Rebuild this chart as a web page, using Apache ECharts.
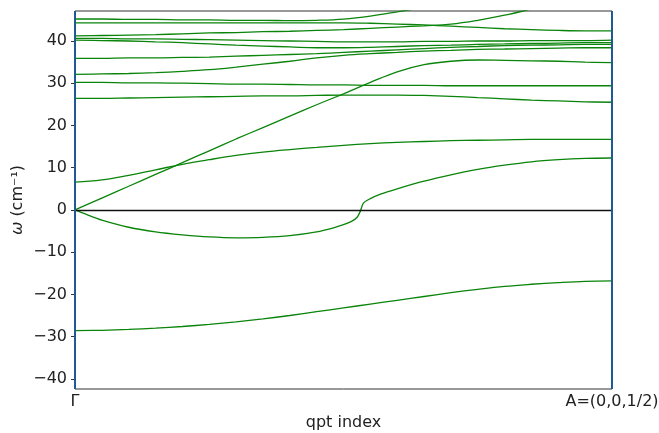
<!DOCTYPE html>
<html>
<head>
<meta charset="utf-8">
<script src="https://cdn.jsdelivr.net/npm/echarts@6/dist/echarts.min.js"></script>
<style>
  html, body { margin: 0; padding: 0; background: #fff; }
  #chart { width: 659px; height: 433px; }
</style>
</head>
<body>
<div id="chart"></div>
<script>
// qpt positions (0 = Γ, 100 = A)
const qpt = [0, 5, 10, 15, 20, 25, 30, 35, 40, 45, 50, 55, 60, 65, 70, 75, 80, 85, 90, 95, 100]

// bands, cm^-1
const band1 = [-28.6, -28.5, -28.3, -28.0, -27.6, -27.1, -26.5, -25.8, -25.0, -24.1, -23.2, -22.3, -21.4, -20.5, -19.6, -18.8, -18.1, -17.6, -17.2, -16.9, -16.8]
const band3 = [0, 2.8, 5.6, 8.4, 11.2, 14.0, 16.8, 19.5, 22.2, 24.9, 27.5, 30.2, 32.7, 34.4, 35.2, 35.5, 35.4, 35.3, 35.2, 35.0, 34.9]
const band4 = [6.6, 7.1, 8.2, 9.5, 10.8, 11.9, 12.9, 13.7, 14.3, 14.8, 15.3, 15.7, 16.0, 16.2, 16.4, 16.5, 16.6, 16.7, 16.7, 16.7, 16.7]
const band5 = [26.4, 26.4, 26.5, 26.6, 26.7, 26.8, 26.9, 27.0, 27.0, 27.1, 27.2, 27.2, 27.2, 27.1, 26.9, 26.6, 26.3, 26.0, 25.8, 25.6, 25.5]
const band6 = [30.2, 30.2, 30.1, 30.1, 30.0, 29.9, 29.8, 29.8, 29.7, 29.6, 29.6, 29.5, 29.5, 29.5, 29.4, 29.4, 29.4, 29.4, 29.4, 29.4, 29.4]
const band7 = [32.1, 32.2, 32.3, 32.5, 32.8, 33.2, 33.8, 34.5, 35.2, 36.0, 36.6, 37.0, 37.3, 37.6, 37.8, 38.0, 38.1, 38.2, 38.3, 38.4, 38.4]
const band8 = [35.9, 35.9, 36.0, 36.0, 36.1, 36.2, 36.4, 36.6, 36.8, 37.0, 37.3, 37.6, 37.9, 38.2, 38.5, 38.7, 38.9, 39.0, 39.1, 39.2, 39.2]
const band9 = [40.2, 40.1, 40.0, 39.8, 39.6, 39.3, 39.0, 38.8, 38.6, 38.4, 38.4, 38.5, 38.7, 38.9, 39.0, 39.2, 39.3, 39.4, 39.5, 39.6, 39.6]
const band10 = [40.6, 40.6, 40.5, 40.5, 40.4, 40.3, 40.2, 40.1, 40.0, 39.9, 39.8, 39.8, 39.8, 39.9, 39.9, 40.0, 40.0, 40.1, 40.1, 40.1, 40.2]
const band11 = [41.2, 41.3, 41.4, 41.5, 41.7, 41.9, 42.0, 42.2, 42.3, 42.5, 42.7, 43.0, 43.3, 43.6, 44.0, 44.9, 46.1, 47.6, 49.2, 50.8, 52.4]
const band12 = [44.3, 44.3, 44.3, 44.3, 44.3, 44.3, 44.3, 44.3, 44.3, 44.3, 44.3, 44.2, 44.0, 43.8, 43.5, 43.2, 42.9, 42.7, 42.5, 42.4, 42.4]
const band13 = [45.2, 45.2, 45.1, 45.1, 45.0, 45.0, 44.9, 44.9, 44.8, 44.9, 45.2, 45.9, 46.9, 48.0, 49.2, 50.4, 51.6, 52.8, 54.0, 55.2, 56.4]

// the band with the dip below zero and the jump near the middle
const band2q = [0, 2, 5, 10, 15, 20, 25, 30, 35, 40, 45, 48, 50, 51.5, 52.5, 53.1, 53.7, 54.9, 57, 60, 65, 70, 75, 80, 85, 90, 95, 100]
const band2 = [0, -1.0, -2.4, -4.1, -5.2, -5.9, -6.4, -6.6, -6.5, -6.1, -5.2, -4.3, -3.5, -2.7, -1.8, -0.4, 1.6, 2.6, 3.8, 5.0, 6.8, 8.3, 9.6, 10.6, 11.4, 11.9, 12.2, 12.3]

const yTicks = [-40, -30, -20, -10, 0, 10, 20, 30, 40]
const xTickLabels = { 0: 'Γ', 100: 'A=(0,0,1/2)' }

const green = '#0a840a'
const font = 'DejaVu Sans'

function pairs (q, w) {
  return q.map((x, i) => [x, w[i]])
}

const bands = [band1, band3, band4, band5, band6, band7, band8, band9, band10, band11, band12, band13]

const series = bands.map(w => ({
  type: 'line',
  data: pairs(qpt, w),
  symbol: 'none',
  smooth: 0.4,
  clip: true,
  lineStyle: { color: green, width: 1.3 },
  silent: true
}))

series.push({
  type: 'line',
  data: pairs(band2q, band2),
  symbol: 'none',
  smooth: 0.25,
  clip: true,
  lineStyle: { color: green, width: 1.3 },
  silent: true
})

// zero line and the two high-symmetry markers
series.push({
  type: 'line',
  data: [],
  silent: true,
  markLine: {
    symbol: 'none',
    silent: true,
    label: { show: false },
    animation: false,
    data: [
      { yAxis: 0, lineStyle: { color: '#111', width: 1.3, type: 'solid' } },
      { xAxis: 0, lineStyle: { color: '#1f5a94', width: 2, type: 'solid' } },
      { xAxis: 100, lineStyle: { color: '#1f5a94', width: 2, type: 'solid' } }
    ]
  }
})

const chart = echarts.init(document.getElementById('chart'))
chart.setOption({
  animation: false,
  grid: {
    left: 75,
    right: 47,
    top: 11,
    bottom: 44,
    containLabel: false,
    outerBoundsMode: 'none',
    show: true,
    borderColor: '#333',
    borderWidth: 1,
    backgroundColor: 'transparent'
  },
  xAxis: {
    type: 'value',
    min: 0,
    max: 100,
    interval: 100,
    name: 'qpt index',
    nameLocation: 'middle',
    nameGap: 26,
    nameTextStyle: { fontFamily: font, fontSize: 16, color: '#222' },
    axisLine: { show: false },
    axisTick: { show: true, length: 4, lineStyle: { color: '#333' } },
    splitLine: { show: false },
    axisLabel: {
      fontFamily: font,
      fontSize: 16,
      color: '#222',
      margin: 5,
      formatter: v => xTickLabels[v] || ''
    }
  },
  yAxis: {
    type: 'value',
    min: -42.4,
    max: 47.1,
    name: '{i|ω} (cm⁻¹)',
    nameLocation: 'middle',
    nameGap: 49,
    nameRotate: 90,
    nameMoveOverlap: false,
    nameTextStyle: {
      fontFamily: font,
      fontSize: 16,
      color: '#222',
      rich: { i: { fontFamily: font, fontSize: 16, fontStyle: 'italic', color: '#222' } }
    },
    axisLine: { show: false },
    axisTick: { show: true, length: 4, customValues: yTicks, lineStyle: { color: '#333' } },
    splitLine: { show: false },
    axisLabel: {
      fontFamily: font,
      fontSize: 16,
      color: '#222',
      margin: 8,
      customValues: yTicks,
      formatter: v => String(v).replace('-', '\u2212')
    }
  },
  series: series
})
</script>
</body>
</html>
